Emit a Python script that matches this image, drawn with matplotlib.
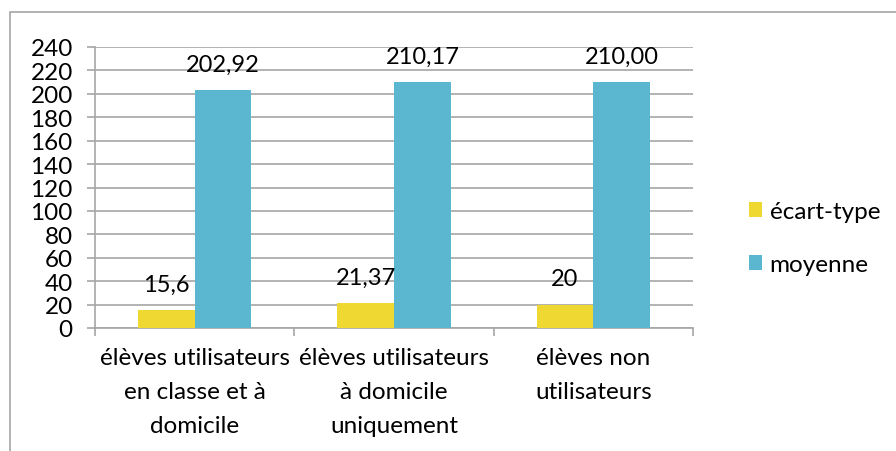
import numpy as np
import matplotlib.pyplot as plt
from matplotlib.patches import Rectangle

plt.rcParams['font.family'] = ['Lato', 'DejaVu Sans']

categories = ["élèves utilisateurs\nen classe et à\ndomicile",
              "élèves utilisateurs\nà domicile\nuniquement",
              "élèves non\nutilisateurs"]
ecart_type = [15.6, 21.37, 20]
moyenne = [202.92, 210.17, 210.00]
ecart_labels = ["15,6", "21,37", "20"]
moyenne_labels = ["202,92", "210,17", "210,00"]
yticks = list(range(0, 241, 20))

fig = plt.figure(figsize=(8.96, 4.52), dpi=100)
fig.patches.append(Rectangle((10 / 896, -0.01), 1.0, 1 - 13 / 452 + 0.01,
                             transform=fig.transFigure, fill=False,
                             edgecolor='#a6a6a6', linewidth=1.2))
ax = fig.add_axes([95 / 896, 1 - 329 / 452, (693 - 95) / 896, (329 - 48) / 452])

x = np.arange(len(categories))
w = 0.285
b1 = ax.bar(x - w / 2, ecart_type, w, color='#f0d833', label='écart-type', zorder=3)
b2 = ax.bar(x + w / 2, moyenne, w, color='#5bb7d0', label='moyenne', zorder=3)

for rect, lab in zip(b1, ecart_labels):
    ax.annotate(lab, (rect.get_x() + rect.get_width() / 2, rect.get_height()),
                xytext=(0, 11), textcoords='offset points', ha='center', va='bottom', fontsize=17)
for rect, lab in zip(b2, moyenne_labels):
    ax.annotate(lab, (rect.get_x() + rect.get_width() / 2, rect.get_height()),
                xytext=(0, 11), textcoords='offset points', ha='center', va='bottom', fontsize=17)

ax.set_xlim(-0.5, 2.5)
ax.set_ylim(0, 240)
ax.set_yticks(yticks)
ax.set_yticklabels([str(v) for v in yticks], fontsize=17.5)
ax.yaxis.grid(True, color='#a6a6a6', linewidth=1.2, zorder=0)
ax.set_axisbelow(True)

ax.set_xticks([-0.5, 0.5, 1.5, 2.5])
ax.set_xticklabels([])
ax.set_xticks(x, minor=True)
ax.set_xticklabels(categories, minor=True, fontsize=17.5, linespacing=1.75)
ax.tick_params(axis='x', which='minor', length=0, pad=14)
ax.tick_params(axis='x', which='major', length=6, color='#a6a6a6', width=1.2)
ax.tick_params(axis='y', length=6, color='#a6a6a6', width=1.2, pad=10)

for s in ['top', 'right']:
    ax.spines[s].set_visible(False)
for s in ['left', 'bottom']:
    ax.spines[s].set_color('#a6a6a6')
    ax.spines[s].set_linewidth(1.2)

fig.legend(loc='center left', bbox_to_anchor=(727 / 896, 1 - 239 / 452), frameon=False,
           fontsize=17.5, handlelength=0.55, handleheight=0.55, handletextpad=0.3,
           labelspacing=1.3)

fig.savefig('out.png', dpi=100)
